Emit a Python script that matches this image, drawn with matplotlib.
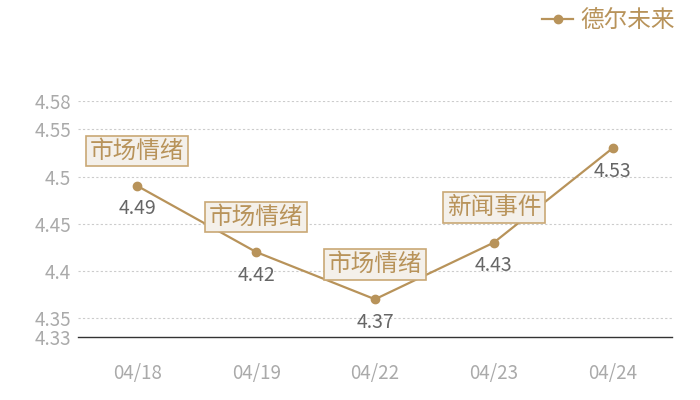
import matplotlib.pyplot as plt

plt.rcParams['font.family'] = ['Noto Sans CJK SC', 'DejaVu Sans']

# data
dates = ['04/18', '04/19', '04/22', '04/23', '04/24']
values = [4.49, 4.42, 4.37, 4.43, 4.53]
events = ['市场情绪', '市场情绪', '市场情绪', '新闻事件', '']
yticks = [4.33, 4.35, 4.4, 4.45, 4.5, 4.55, 4.58]
ytick_labels = ['4.33', '4.35', '4.4', '4.45', '4.5', '4.55', '4.58']
series_name = '德尔未来'

gold = '#B8935A'
grey = '#AAAAAA'

fig = plt.figure(figsize=(7, 4), dpi=100)
ax = fig.add_axes([0.1114, 0.1575, 0.8486, 0.59])

x = list(range(len(dates)))
ax.plot(x, values, color=gold, linewidth=1.6, marker='o', markersize=6,
        label=series_name, zorder=3)

for i, v in enumerate(values):
    ax.annotate(f'{v:.2f}', (i, v), xytext=(0, -23), textcoords='offset pixels',
                ha='center', va='center', fontsize=14, color='#666666', zorder=4)
    if events[i]:
        ax.annotate(events[i], (i, v), xytext=(0, 35), textcoords='offset pixels',
                    ha='center', va='center', fontsize=17, color=gold, zorder=5,
                    bbox=dict(boxstyle='square,pad=0.16', facecolor='#F4F0EA',
                              edgecolor='#C9A875', linewidth=1.2))

ax.set_xlim(-0.5, len(dates) - 0.5)
ax.set_ylim(4.33, 4.58)
ax.set_xticks(x)
ax.set_xticklabels(dates)
ax.set_yticks(yticks)
ax.set_yticklabels(ytick_labels)
ax.tick_params(axis='both', length=0, labelsize=13.5, labelcolor=grey)
ax.tick_params(axis='x', pad=19)
ax.tick_params(axis='y', pad=5)

for t in yticks[1:]:
    ax.axhline(t, color='#CCCCCC', linewidth=0.8, linestyle=(0, (2, 2)), zorder=1)

for s in ['top', 'right', 'left']:
    ax.spines[s].set_visible(False)
ax.spines['bottom'].set_color('#333333')
ax.spines['bottom'].set_linewidth(1)

leg = ax.legend(loc='upper right', bbox_to_anchor=(1.04, 1.48), frameon=False,
                fontsize=17, handlelength=1.3, handletextpad=0.3)
for t in leg.get_texts():
    t.set_color(gold)

plt.savefig('out.png', dpi=100)
